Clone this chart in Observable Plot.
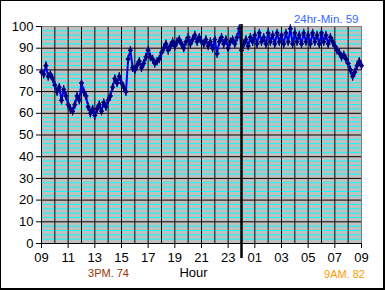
<!DOCTYPE html>
<html>
<head>
<meta charset="utf-8">
<script src="https://cdn.jsdelivr.net/npm/d3@7"></script>
<script src="https://cdn.jsdelivr.net/npm/@observablehq/plot@0.6"></script>
<style>
  html, body { margin: 0; padding: 0; background: #fff; }
  #wrap { position: relative; width: 385px; height: 290px; overflow: hidden; }
  #border { position: absolute; left: 0; top: 0; width: 385px; height: 290px; box-sizing: border-box;
            border-top: 1px solid #000; border-left: 1px solid #000; border-right: 2px solid #000; border-bottom: 2px solid #000;
            pointer-events: none; }
  svg { display: block; }
</style>
</head>
<body>
<div id="wrap"><div id="border"></div></div>
<script>
// ---- data ----
const startHour = 9;      // 09:00 first reading
const stepMinutes = 10;   // one reading every 10 minutes
const temps = [
  // 09h
  79, 78, 82, 77, 78, 76,
  // 10h
  73, 70, 72, 66, 71, 68,
  // 11h
  64, 62, 61, 64, 68, 66,
  // 12h
  74, 70, 68, 63, 60, 62,
  // 13h
  59, 62, 64, 61, 65, 63,
  // 14h
  66, 68, 72, 76, 74, 77,
  // 15h
  74, 72, 70, 85, 89, 81,
  // 16h
  80, 82, 84, 81, 83, 86,
  // 17h
  89, 86, 85, 83, 84, 85,
  // 18h
  88, 90, 92, 89, 91, 93,
  // 19h
  91, 93, 94, 92, 90, 93,
  // 20h
  95, 92, 94, 96, 93, 95,
  // 21h
  93, 92, 94, 91, 93, 90,
  // 22h
  94, 87.5, 93, 95, 92, 94,
  // 23h
  90, 93, 94, 92, 95, 99,
  // 00h
  89, 92, 94, 91, 95, 93,
  // 01h
  96, 92, 97, 93, 95, 92,
  // 02h
  97, 93, 96, 92, 97, 93,
  // 03h
  96, 92, 97, 93, 99, 92,
  // 04h
  97, 93, 96, 92, 97, 93,
  // 05h
  96, 92, 97, 93, 96, 92,
  // 06h
  97, 93, 96, 92, 95, 93,
  // 07h
  91, 89, 88, 86, 87, 85,
  // 08h
  83, 80, 77, 79, 82, 84,
  // 09h
  82
];
const yTicks = [0, 10, 20, 30, 40, 50, 60, 70, 80, 90, 100];
const yMinor = [2,4,6,8,12,14,16,18,22,24,26,28,32,34,36,38,42,44,46,48,52,54,56,58,62,64,66,68,72,74,76,78,82,84,86,88,92,94,96,98];
const xTicks = [9, 11, 13, 15, 17, 19, 21, 23, 25, 27, 29, 31, 33];
const hourLines = [10,11,12,13,14,15,16,17,18,19,20,21,22,23,24,25,26,27,28,29,30,31,32];
const midnight = [24];
const yMajorLines = [10, 20, 30, 40, 50, 60, 70, 80, 90];
const titleText = ["24hr-Min. 59"];
const leftNote = ["3PM. 74"];
const rightNote = ["9AM. 82"];
const xLabel = ["Hour"];

const rows = temps.map((v, i) => ({hour: startHour + i * stepMinutes / 60, temp: v}));

const vplus = {
  draw(ctx, size) {
    const r = Math.sqrt(size / Math.PI);
    ctx.moveTo(0, -r * 1.6); ctx.lineTo(0, r * 1.6);
    ctx.moveTo(-r * 0.9, 0); ctx.lineTo(r * 0.9, 0);
  }
};

const chart = Plot.plot({
  width: 385,
  height: 290,
  marginLeft: 41,
  marginRight: 24,
  marginTop: 26,
  marginBottom: 47,
  style: {fontFamily: "'Liberation Sans', Arial, sans-serif", fontSize: "13px", color: "#000", background: "transparent", overflow: "visible"},
  x: {domain: [9, 33], axis: null},
  y: {domain: [0, 100], axis: null},
  marks: [
    Plot.frame({fill: "#c0c0c0", stroke: null}),
    Plot.ruleY(yMinor, {stroke: "#00ffff", strokeWidth: 1}),
    Plot.ruleY(yMajorLines, {stroke: "#000", strokeWidth: 1}),
    Plot.ruleX(hourLines, {stroke: "#000", strokeWidth: 1}),
    Plot.frame({stroke: "#808080", strokeWidth: 1}),
    Plot.axisY({ticks: yTicks, tickSize: 5, tickPadding: 3, fontSize: 13, stroke: "#000", label: null}),
    Plot.axisX({ticks: xTicks, tickSize: 5, tickPadding: 4, fontSize: 13, stroke: "#000", label: null,
      tickFormat: d => String(d % 24).padStart(2, "0")}),
    Plot.ruleY([0], {stroke: "#000"}),
    Plot.ruleX([9], {stroke: "#000"}),
    Plot.line(rows, {x: "hour", y: "temp", stroke: "#0000ff", strokeWidth: 2}),
    Plot.dot(rows, {x: "hour", y: "temp", symbol: vplus, r: 2.7, stroke: "#000080", strokeWidth: 1.2}),
    Plot.dot(rows, {x: "hour", y: "temp", symbol: "diamond", r: 2.3, fill: "#000080", stroke: null}),
    Plot.ruleX(midnight, {stroke: "#000", strokeWidth: 2.5, insetTop: -2, insetBottom: -15}),
    Plot.text(titleText, {text: d => d, frameAnchor: "top-right", textAnchor: "end", dx: -3, dy: -12, fill: "#3366ff", fontSize: 11.5}),
    Plot.text(leftNote, {text: d => d, frameAnchor: "bottom-left", textAnchor: "middle", dx: 67, dy: 33, fill: "#993300", fontSize: 11}),
    Plot.text(rightNote, {text: d => d, frameAnchor: "bottom-right", textAnchor: "middle", dx: -17, dy: 34, fill: "#ff9900", fontSize: 11}),
    Plot.text(xLabel, {text: d => d, frameAnchor: "bottom", textAnchor: "middle", dx: -8, dy: 33, fill: "#000", fontSize: 13})
  ]
});
document.getElementById("wrap").prepend(chart);
</script>
</body>
</html>
